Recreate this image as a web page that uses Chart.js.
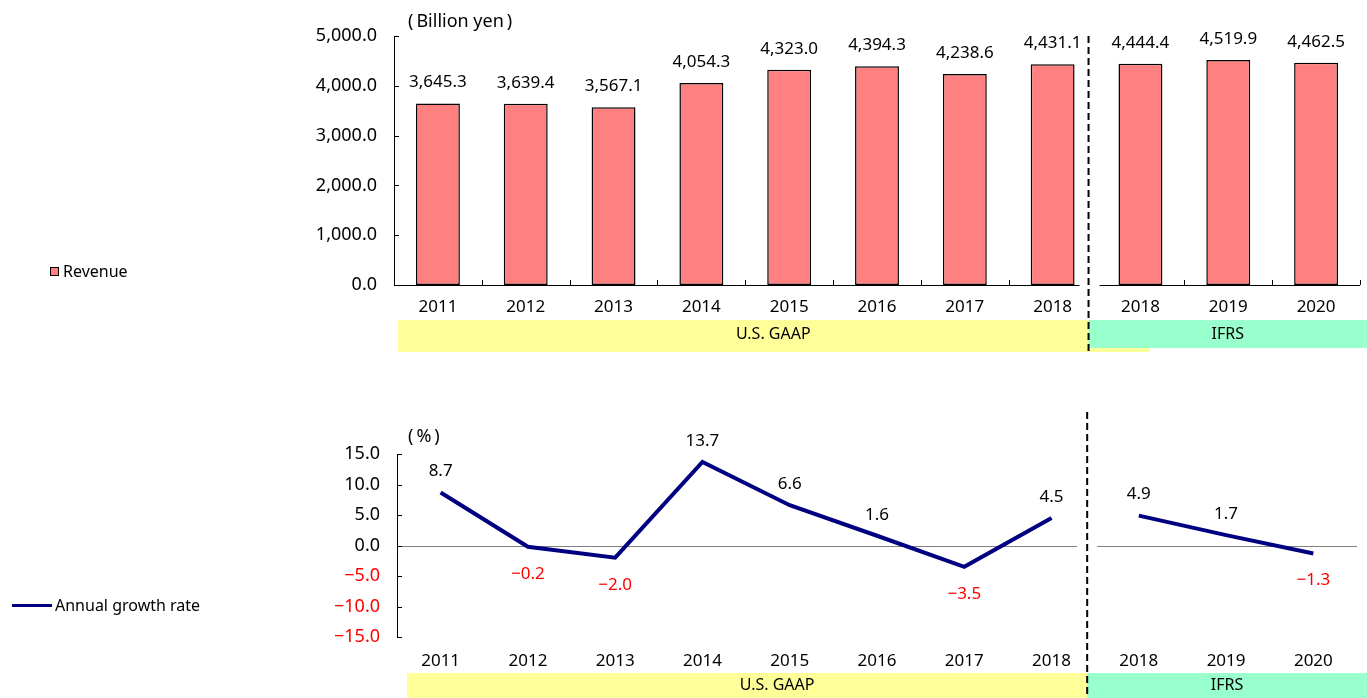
<!DOCTYPE html>
<html>
<head>
<meta charset="utf-8">
<script src="https://cdn.jsdelivr.net/npm/chart.js@4.4.0/dist/chart.umd.min.js"></script>
<style>
  html, body { margin: 0; padding: 0; background: #fff; }
  body { width: 1367px; height: 698px; position: relative; overflow: hidden; font-family: 'Noto Sans', sans-serif; }
  canvas { position: absolute; left: 0; }
  #revenueChart { top: 0; }
  #growthChart { top: 360px; }
  .legend { position: absolute; font-size: 16px; color: #000; display: flex; align-items: center; white-space: nowrap; }
  .legend .swatch { width: 7px; height: 7px; background: #FF8080; border: 1.5px solid #000; margin-right: 4px; }
  .legend .stroke { width: 40px; height: 3px; background: #000080; margin-right: 3px; }
</style>
</head>
<body>
<canvas id="revenueChart" width="1367" height="360"></canvas>
<canvas id="growthChart" width="1367" height="338"></canvas>
<div class="legend" style="left:50px; top:260px;"><span class="swatch"></span>Revenue</div>
<div class="legend" style="left:12px; top:594px;"><span class="stroke"></span>Annual growth rate</div>

<script>
// chart values
const categories = ['2011', '2012', '2013', '2014', '2015', '2016', '2017', '2018', '2018', '2019', '2020'];
const revenue = [3645.3, 3639.4, 3567.1, 4054.3, 4323.0, 4394.3, 4238.6, 4431.1, 4444.4, 4519.9, 4462.5];
const growth = [8.7, -0.2, -2.0, 13.7, 6.6, 1.6, -3.5, 4.5, 4.9, 1.7, -1.3];
const revenueTicks = [0, 1000, 2000, 3000, 4000, 5000];
const growthTicks = [-15, -10, -5, 0, 5, 10, 15];
const standards = ['U.S. GAAP', 'IFRS'];
const ifrsCount = 3;

const FONT = "'Noto Sans', sans-serif";
const split = categories.length - ifrsCount;

function fmtThousands(v) {
    return v.toLocaleString('en-US', { minimumFractionDigits: 1, maximumFractionDigits: 1 });
}
function fmtSigned(v) {
    return (v < 0 ? '\u2212' : '') + Math.abs(v).toFixed(1);
}

function line(ctx, x1, y1, x2, y2) {
    ctx.beginPath();
    ctx.moveTo(x1, y1);
    ctx.lineTo(x2, y2);
    ctx.stroke();
}

// boundary between the U.S. GAAP and IFRS groups
function splitX(chart) {
    const a = chart.chartArea;
    return a.left + split * (a.right - a.left) / categories.length;
}

function drawDashed(ctx, x, y1, y2) {
    ctx.save();
    ctx.strokeStyle = '#000';
    ctx.lineWidth = 2;
    ctx.setLineDash([7, 4]);
    line(ctx, x, y1, x, y2);
    ctx.restore();
}

function drawBands(ctx, left, divider, top, h, yellowExtra) {
    ctx.save();
    ctx.fillStyle = '#FFFF99';
    ctx.fillRect(left, top, divider - left + yellowExtra, h + (yellowExtra ? 4 : 0));
    ctx.fillStyle = '#99FFCC';
    ctx.fillRect(divider, top, 1367 - divider, h);
    ctx.fillStyle = '#000';
    ctx.font = '16px ' + FONT;
    ctx.textAlign = 'center';
    ctx.textBaseline = 'middle';
    ctx.fillText(standards[0], (left + divider) / 2 + 30, top + h / 2);
    ctx.fillText(standards[1], (divider + 1367) / 2, top + h / 2);
    ctx.restore();
}

const revenueFrame = {
    id: 'revenueFrame',
    afterDraw(chart) {
        const { ctx, chartArea: a, scales: { y } } = chart;
        const w = (a.right - a.left) / categories.length;
        const bx = splitX(chart);
        ctx.save();
        ctx.strokeStyle = '#000';
        ctx.lineWidth = 1;
        line(ctx, a.left + 0.5, a.top, a.left + 0.5, a.bottom);
        revenueTicks.forEach(t => {
            const py = Math.round(y.getPixelForValue(t)) + 0.5;
            line(ctx, a.left, py, a.left + 5, py);
        });
        const by = Math.round(a.bottom) + 0.5;
        line(ctx, a.left, by, bx - 17, by);
        line(ctx, bx + 3, by, a.right, by);
        for (let i = 1; i <= categories.length; i++) {
            if (i === split) continue;
            const px = Math.round(a.left + i * w) + 0.5;
            line(ctx, px, a.bottom, px, a.bottom - 5);
        }
        ctx.restore();

        // value labels
        const meta = chart.getDatasetMeta(0);
        ctx.save();
        ctx.fillStyle = '#000';
        ctx.font = '17px ' + FONT;
        ctx.textAlign = 'center';
        ctx.textBaseline = 'middle';
        meta.data.forEach((bar, i) => {
            ctx.fillText(fmtThousands(revenue[i]), bar.x, bar.y - 21);
        });
        ctx.font = '18px ' + FONT;
        ctx.textAlign = 'left';
        ctx.fillText('(\u2009Billion yen\u2009)', 408, 22);
        ctx.restore();

        drawBands(ctx, 398, bx - 8, 320, 28, 61);
        drawDashed(ctx, bx - 8, a.top, 354);
    }
};

const growthFrame = {
    id: 'growthFrame',
    beforeDatasetsDraw(chart) {
        const { ctx, chartArea: a, scales: { y } } = chart;
        const bx = splitX(chart);
        const zy = Math.round(y.getPixelForValue(0)) + 0.5;
        ctx.save();
        ctx.strokeStyle = '#808080';
        ctx.lineWidth = 1;
        line(ctx, a.left, zy, bx - 18, zy);
        line(ctx, bx + 2, zy, a.right, zy);
        ctx.restore();
    },
    afterDraw(chart) {
        const { ctx, chartArea: a, scales: { y } } = chart;
        const bx = splitX(chart);
        ctx.save();
        ctx.strokeStyle = '#000';
        ctx.lineWidth = 1;
        line(ctx, a.left + 0.5, a.top, a.left + 0.5, a.bottom);
        growthTicks.forEach(t => {
            const py = Math.round(y.getPixelForValue(t)) + 0.5;
            line(ctx, a.left, py, a.left + 5, py);
        });
        ctx.restore();

        const meta = chart.getDatasetMeta(0);
        ctx.save();
        ctx.font = '17px ' + FONT;
        ctx.textAlign = 'center';
        ctx.textBaseline = 'middle';
        meta.data.forEach((pt, i) => {
            const v = growth[i];
            ctx.fillStyle = v < 0 ? '#FF0000' : '#000';
            ctx.fillText(fmtSigned(v), pt.x, v < 0 ? pt.y + 27 : pt.y - 21);
        });
        ctx.fillStyle = '#000';
        ctx.font = '18px ' + FONT;
        ctx.textAlign = 'left';
        ctx.fillText('(\u2009%\u2009)', 408, 77);
        ctx.restore();

        drawBands(ctx, 407, bx - 8, 313, 25, 0);
        drawDashed(ctx, bx - 8, 52, 338);
    }
};

const tickFont = { family: FONT, size: 17 };
const valueFont = { family: FONT, size: 18 };

new Chart(document.getElementById('revenueChart'), {
    type: 'bar',
    data: {
        labels: categories,
        datasets: [{
            label: 'Revenue',
            data: revenue,
            backgroundColor: '#FF8080',
            borderColor: '#000',
            borderWidth: 1.5,
            borderSkipped: false,
            categoryPercentage: 0.5,
            barPercentage: 1
        }]
    },
    options: {
        responsive: false,
        animation: false,
        layout: { padding: { top: 36, right: 7, left: 0, bottom: 0 } },
        plugins: { legend: { display: false }, tooltip: { enabled: false } },
        scales: {
            x: {
                grid: { display: false, drawTicks: false },
                border: { display: false },
                ticks: { padding: 12, color: '#000', font: tickFont, maxRotation: 0, autoSkip: false },
                afterFit: s => { s.height = 75; }
            },
            y: {
                min: 0,
                max: 5000,
                grid: { display: false, drawTicks: false },
                border: { display: false },
                afterBuildTicks: s => { s.ticks = revenueTicks.map(v => ({ value: v })); },
                ticks: { padding: 17, color: '#000', font: valueFont, callback: v => fmtThousands(v) },
                afterFit: s => { s.width = 394; }
            }
        }
    },
    plugins: [revenueFrame]
});

new Chart(document.getElementById('growthChart'), {
    type: 'line',
    data: {
        labels: categories,
        datasets: [{
            label: 'Annual growth rate',
            data: growth,
            borderColor: '#000080',
            borderWidth: 4,
            pointRadius: 0,
            tension: 0,
            fill: false,
            segment: {
                borderColor: c => c.p0DataIndex === split - 1 ? 'transparent' : undefined
            }
        }]
    },
    options: {
        responsive: false,
        animation: false,
        layout: { padding: { top: 94, right: 10, left: 0, bottom: 0 } },
        plugins: { legend: { display: false }, tooltip: { enabled: false } },
        scales: {
            x: {
                offset: true,
                grid: { display: false, drawTicks: false },
                border: { display: false },
                ticks: { padding: 14, color: '#000', font: tickFont, maxRotation: 0, autoSkip: false },
                afterFit: s => { s.height = 61; }
            },
            y: {
                min: -15,
                max: 15,
                grid: { display: false, drawTicks: false },
                border: { display: false },
                afterBuildTicks: s => { s.ticks = growthTicks.map(v => ({ value: v })); },
                ticks: {
                    padding: 17,
                    font: valueFont,
                    color: c => c.tick.value < 0 ? '#FF0000' : '#000',
                    callback: v => fmtSigned(v)
                },
                afterFit: s => { s.width = 397; }
            }
        }
    },
    plugins: [growthFrame]
});
</script>
</body>
</html>
